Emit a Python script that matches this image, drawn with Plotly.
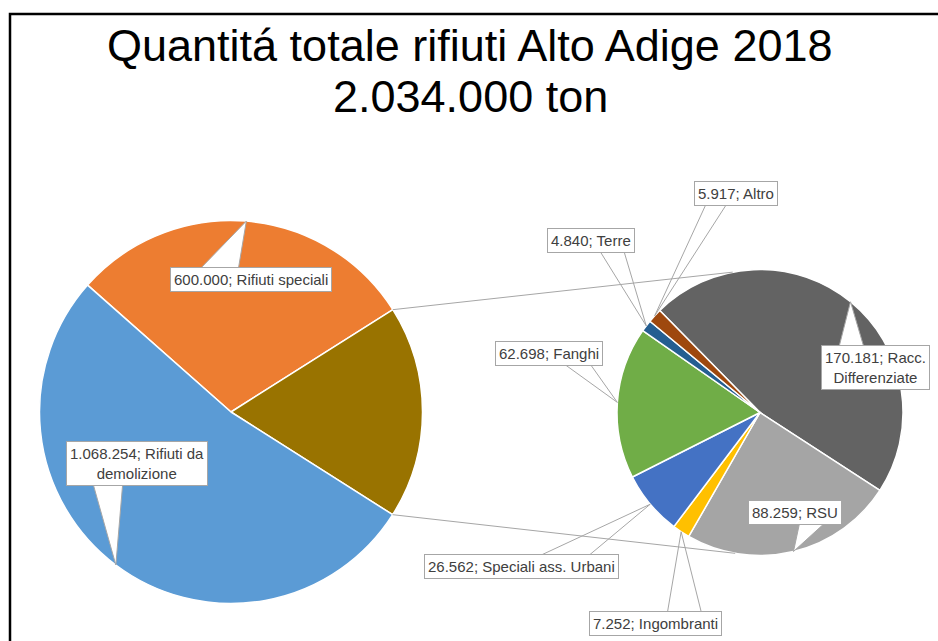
import math
import plotly.graph_objects as go

W, H = 938, 641

# Secondary breakdown (the olive slice of the main pie, expanded)
sub_names = ["Racc. Differenziate", "RSU", "Ingombranti", "Speciali ass. Urbani",
             "Fanghi", "Terre", "Altro"]
sub_values = [170181, 88259, 7252, 26562, 62698, 4840, 5917]
sub_colors = ["#636363", "#A5A5A5", "#FFC000", "#4472C4", "#70AD47", "#255E91", "#9E480E"]

# Main pie
main_names = ["Rifiuti speciali", "Altri", "Rifiuti da demolizione"]
main_values = [600000, sum(sub_values), 1068254]
main_colors = ["#ED7D31", "#997300", "#5B9BD5"]

title_lines = ["Quantitá totale rifiuti Alto Adige 2018", "2.034.000 ton"]

# Names whose label wraps onto a second line after the given words
wrap_after = {"Rifiuti da demolizione": "Rifiuti da", "Racc. Differenziate": "Racc."}

# Pie geometry in pixels: centre, radius, start angle (deg clockwise from 12 o'clock)
LEFT = dict(cx=231, cy=412, r=191.5, rot=-48.5)
RIGHT = dict(cx=760, cy=412.5, r=143, rot=-44.5)

# Label boxes (centre px) and callout base (x0, x1, y on the box edge), per slice
main_boxes = [((250.5, 279), (198, 238, 268)), None, ((137, 463.5), (92, 123, 483))]
sub_boxes = [((875, 367.5), (838, 865, 348)),
             ((794.5, 512), (800, 827, 524)),
             ((655, 623.5), (667, 702, 612)),
             ((521, 566), (537, 587, 554)),
             ((548.5, 353), (560, 588, 364)),
             ((591, 240), (598, 623, 251)),
             ((736, 194), (707, 728, 205))]

TEXT = "#404040"
GREY = "#A6A6A6"
FONT = "Liberation Sans, Arial, sans-serif"


def px(x):
    return x / W


def py(y):
    return 1 - y / H


def fmt(v):
    return f"{v:,}".replace(",", ".")


def label_text(v, name):
    if name in wrap_after:
        head = wrap_after[name]
        name = head + "<br>" + name[len(head):].strip()
    return f"{fmt(v)}; {name}"


def edge_point(geo, ang, r=None):
    r = geo["r"] if r is None else r
    a = math.radians(ang)
    return geo["cx"] + r * math.sin(a), geo["cy"] - r * math.cos(a)


def slice_angles(values, rot):
    total = sum(values)
    out, cum = [], 0
    for v in values:
        a0 = rot + cum / total * 360
        cum += v
        a1 = rot + cum / total * 360
        out.append((a0, a1))
    return out


def domain(geo):
    return dict(x=[px(geo["cx"] - geo["r"]), px(geo["cx"] + geo["r"])],
                y=[py(geo["cy"] + geo["r"]), py(geo["cy"] - geo["r"])])


fig = go.Figure()
for names, values, colors, geo in [(main_names, main_values, main_colors, LEFT),
                                   (sub_names, sub_values, sub_colors, RIGHT)]:
    fig.add_trace(go.Pie(
        labels=names, values=values, sort=False, direction="clockwise",
        rotation=geo["rot"], domain=domain(geo), textinfo="none",
        marker=dict(colors=colors, line=dict(color="white", width=1.5)),
        showlegend=False, hoverinfo="label+value",
    ))

shapes = []
annotations = []

# Callout labels with wedge pointers to each slice's mid angle on the rim
for names, values, boxes, geo in [(main_names, main_values, main_boxes, LEFT),
                                  (sub_names, sub_values, sub_boxes, RIGHT)]:
    for (a0, a1), name, v, box in zip(slice_angles(values, geo["rot"]), names, values, boxes):
        if box is None:
            continue
        (bx, by), (x0, x1, ey) = box
        tx, ty = edge_point(geo, (a0 + a1) / 2)
        ey = ey + 3 if ey < by else ey - 3
        path = (f"M {px(x0)},{py(ey)} L {px(tx)},{py(ty)} "
                f"L {px(x1)},{py(ey)} Z")
        shapes.append(dict(type="path", xref="paper", yref="paper", path=path,
                           fillcolor="white", line=dict(color=GREY, width=1),
                           layer="above"))
        annotations.append(dict(
            x=px(bx), y=py(by), xref="paper", yref="paper", showarrow=False,
            xanchor="center", yanchor="middle", text=label_text(v, name),
            font=dict(family=FONT, size=15, color=TEXT),
            bgcolor="white", bordercolor=GREY, borderwidth=1, borderpad=3,
        ))

# Connector lines from the expanded slice to the secondary pie
olive_a0, olive_a1 = slice_angles(main_values, LEFT["rot"])[1]
for la, ra in [(olive_a0, -11), (olive_a1, 190)]:
    x0, y0 = edge_point(LEFT, la)
    x1, y1 = edge_point(RIGHT, ra)
    shapes.append(dict(type="line", xref="paper", yref="paper",
                       x0=px(x0), y0=py(y0), x1=px(x1), y1=py(y1),
                       line=dict(color=GREY, width=1), layer="above"))

# Outer frame
shapes.append(dict(type="rect", xref="paper", yref="paper",
                   x0=px(10), y0=py(14), x1=px(W + 10), y1=py(H + 10),
                   line=dict(color="black", width=2.5), layer="above"))

# Two-line title
for text, yc in zip(title_lines, [45, 97]):
    annotations.append(dict(x=px(470), y=py(yc), xref="paper", yref="paper",
                            showarrow=False, xanchor="center", yanchor="middle",
                            text=text, font=dict(family=FONT, size=45, color="black")))

fig.update_layout(
    width=W, height=H, autosize=False,
    margin=dict(l=0, r=0, t=0, b=0),
    paper_bgcolor="white", plot_bgcolor="white",
    shapes=shapes, annotations=annotations,
)

fig.write_html("out.html")
